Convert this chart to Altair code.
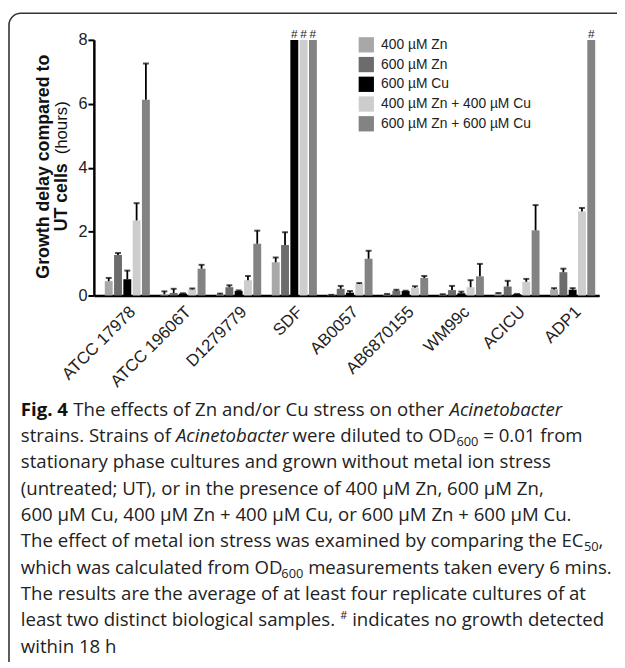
import altair as alt
import pandas as pd

strains = ["ATCC 17978", "ATCC 19606T", "D1279779", "SDF", "AB0057",
           "AB6870155", "WM99c", "ACICU", "ADP1"]
treatments = ["400 µM Zn", "600 µM Zn", "600 µM Cu",
              "400 µM Zn + 400 µM Cu", "600 µM Zn + 600 µM Cu"]

# mean growth delay (hours) per treatment, in strain order
zn400 = [0.45, 0.04, 0.04, 1.04, 0.02, 0.04, 0.03, 0.06, 0.19]
zn600 = [1.27, 0.08, 0.26, 1.58, 0.21, 0.15, 0.17, 0.28, 0.73]
cu600 = [0.51, 0.06, 0.14, 8.0, 0.09, 0.14, 0.07, 0.04, 0.18]
zncu400 = [2.35, 0.19, 0.48, 8.0, 0.36, 0.24, 0.26, 0.43, 2.63]
zncu600 = [6.13, 0.84, 1.62, 8.0, 1.15, 0.55, 0.60, 2.04, 8.0]

# upper end of error bar (mean + error); None = no error bar
zn400_up = [0.55, 0.13, 0.06, 1.19, 0.02, 0.05, 0.04, 0.08, 0.23]
zn600_up = [1.33, 0.21, 0.32, 1.98, 0.30, 0.18, 0.30, 0.46, 0.84]
cu600_up = [0.78, 0.07, 0.16, None, 0.14, 0.15, 0.12, 0.05, 0.23]
zncu400_up = [2.89, 0.22, 0.61, None, 0.39, 0.29, 0.48, 0.52, 2.74]
zncu600_up = [7.26, 0.96, 2.03, None, 1.40, 0.61, 0.99, 2.83, None]

# no growth detected within 18 h (#)
no_growth = [("SDF", "600 µM Cu"), ("SDF", "400 µM Zn + 400 µM Cu"),
             ("SDF", "600 µM Zn + 600 µM Cu"), ("ADP1", "600 µM Zn + 600 µM Cu")]

palette = ["#a8a8a8", "#6c6c6c", "#000000", "#cdcdcd", "#838383"]

series = [zn400, zn600, cu600, zncu400, zncu600]
uppers = [zn400_up, zn600_up, cu600_up, zncu400_up, zncu600_up]
rows = []
for t, vals, ups in zip(treatments, series, uppers):
    for s, v, u in zip(strains, vals, ups):
        rows.append({"strain": s, "treatment": t, "value": v, "upper": u})
df = pd.DataFrame(rows)
err = df[df["upper"].notna()].copy()
ng = pd.DataFrame([{"strain": s, "treatment": t, "value": 8.0} for s, t in no_growth])
one = pd.DataFrame({"k": [0]})

OX, OY = 95, 36  # page position of plot origin

xaxis = alt.Axis(title=None, labelAngle=-45, ticks=False, domainColor="black",
                 domainWidth=2.5, labelFont="Liberation Sans", labelFontSize=17,
                 labelColor="#222", labelPadding=8)
yaxis = alt.Axis(title=None, values=[0, 2, 4, 6, 8], grid=False, domainColor="black",
                 domainWidth=2.5, tickColor="black", tickWidth=2, tickSize=6,
                 labelFont="Liberation Sans", labelFontSize=16.5, labelColor="#222",
                 labelPadding=1)
xs = alt.Scale(domain=strains, paddingInner=0.19, paddingOuter=0.134, align=0.73)
xos = alt.Scale(domain=treatments, paddingInner=0.15, paddingOuter=0)
ys = alt.Scale(domain=[0, 8], nice=False)

X = alt.X("strain:N", sort=strains, scale=xs, axis=xaxis)
XO = alt.XOffset("treatment:N", sort=treatments, scale=xos)

bars = alt.Chart(df).mark_bar().encode(
    x=X, xOffset=XO,
    y=alt.Y("value:Q", scale=ys, axis=yaxis),
    color=alt.Color("treatment:N", sort=treatments,
                    scale=alt.Scale(domain=treatments, range=palette),
                    legend=alt.Legend(orient="none", legendX=268, legendY=-3, title=None,
                                      symbolType="square", symbolSize=240,
                                      symbolStrokeWidth=0, symbolOpacity=1,
                                      labelFont="Liberation Sans", labelFontSize=14,
                                      labelColor="#222", labelOffset=7, rowPadding=4,
                                      padding=0)),
)
stems = alt.Chart(err).mark_rule(color="black", strokeWidth=1.8).encode(
    x=X, xOffset=XO,
    y=alt.Y("value:Q", scale=ys, axis=yaxis), y2="upper:Q")
caps = alt.Chart(err).mark_tick(orient="horizontal", color="black", size=6,
                                thickness=2).encode(
    x=X, xOffset=XO, y=alt.Y("upper:Q", scale=ys, axis=yaxis))
hashes = alt.Chart(ng).mark_text(text="#", dy=-6, font="Liberation Sans", fontSize=12,
                                 color="#222").encode(
    x=X, xOffset=XO, y=alt.Y("value:Q", scale=ys, axis=yaxis))

border = alt.Chart(one).mark_rect(fillOpacity=0, stroke="#333", strokeWidth=1.6,
                                  cornerRadius=12).encode(
    x=alt.value(9 - OX), x2=alt.value(760), y=alt.value(9 - OY), y2=alt.value(900))


def seg(text, x, y, size=18.85, weight="normal", style="normal", font="Open Sans",
        angle=0, align="left", color="#222"):
    return alt.Chart(one).mark_text(text=text, align=align, baseline="alphabetic",
                                    font=font, fontSize=size, fontWeight=weight,
                                    fontStyle=style, angle=angle, color=color).encode(
        x=alt.value(x - OX), y=alt.value(y - OY))


# approximate Open Sans advance widths (units per 2048 em) to chain styled runs
ADV = {" ": 532, "#": 1323, "(": 604, ")": 604, "+": 1171, ",": 502, ".": 545,
       "/": 752, ";": 545, "=": 1171, "µ": 1264, "A": 1296, "C": 1292, "D": 1479,
       "E": 1139, "F": 1057, "M": 1849, "O": 1599, "S": 1124, "T": 1139, "U": 1462,
       "Z": 1169, "a": 1139, "b": 1255, "c": 975, "d": 1255, "e": 1149, "f": 694,
       "g": 1122, "h": 1257, "i": 518, "k": 1075, "l": 518, "m": 1905, "n": 1257,
       "o": 1237, "p": 1255, "r": 836, "s": 977, "t": 723, "u": 1257, "v": 1026,
       "w": 1593, "x": 1073, "y": 1028}


def tw(text, size, k=1.0):
    return sum(ADV.get(ch, 1171) for ch in text) / 2048 * size * k


S = 18.85
SUB = 13
SP = tw(" ", S)
B = [417, 443.5, 470, 497, 523.5, 550, 577, 603.5, 630, 657]
L = 21

caption = []
# line 1
x = L
caption.append(seg("Fig. 4", x, B[0], weight="bold", color="#111"))
x += tw("Fig. 4", S, 1.06) + SP
t = "The effects of Zn and/or Cu stress on other"
caption.append(seg(t, x, B[0]))
x += tw(t, S) + SP
caption.append(seg("Acinetobacter", x, B[0], style="italic"))
# line 2
x = L
t = "strains. Strains of"
caption.append(seg(t, x, B[1]))
x += tw(t, S) + SP
caption.append(seg("Acinetobacter", x, B[1], style="italic"))
x += tw("Acinetobacter", S, 0.93) + SP
t = "were diluted to OD"
caption.append(seg(t, x, B[1]))
x += tw(t, S)
caption.append(seg("600", x, B[1] + 4, size=SUB))
x += tw("600", SUB) + SP
caption.append(seg("= 0.01 from", x, B[1]))
# lines 3-5
caption.append(seg("stationary phase cultures and grown without metal ion stress", L, B[2]))
caption.append(seg("(untreated; UT), or in the presence of 400 µM Zn, 600 µM Zn,", L, B[3]))
caption.append(seg("600 µM Cu, 400 µM Zn + 400 µM Cu, or 600 µM Zn + 600 µM Cu.", L, B[4]))
# line 6
t = "The effect of metal ion stress was examined by comparing the EC"
caption.append(seg(t, L, B[5]))
x = L + tw(t, S) - 0.5
caption.append(seg("50", x, B[5] + 4, size=SUB))
x += tw("50", SUB)
caption.append(seg(",", x, B[5]))
# line 7
t = "which was calculated from OD"
caption.append(seg(t, L, B[6]))
x = L + tw(t, S) - 1.5
caption.append(seg("600", x, B[6] + 4, size=SUB))
x += tw("600", SUB) + SP
caption.append(seg("measurements taken every 6 mins.", x, B[6]))
# lines 8-10
caption.append(seg("The results are the average of at least four replicate cultures of at", L, B[7]))
t = "least two distinct biological samples."
caption.append(seg(t, L, B[8]))
x = L + tw(t, S) + SP
caption.append(seg("#", x, B[8] - 7, size=11))
x += tw("#", 11) + SP
caption.append(seg("indicates no growth detected", x, B[8]))
caption.append(seg("within 18 h", L, B[9]))

ytitle = [
    seg("Growth delay compared to", 50, 164.5, size=18, weight="bold",
        font="Liberation Sans", angle=270, align="center", color="#111"),
    seg("UT cells", 68, 230, size=18, weight="bold", font="Liberation Sans",
        angle=270, color="#111"),
    seg("(hours)", 68, 152, size=17, font="Liberation Sans", angle=270, color="#111"),
]

chart = alt.layer(border, bars, stems, caps, hashes, *ytitle, *caption).properties(
    width=512, height=259,
    padding={"left": 87, "top": 28, "right": 18, "bottom": 367},
    autosize=alt.AutoSizeParams(type="none"),
).configure_view(stroke=None)

chart.save("out.html", embed_options={"renderer": "svg", "actions": False})
